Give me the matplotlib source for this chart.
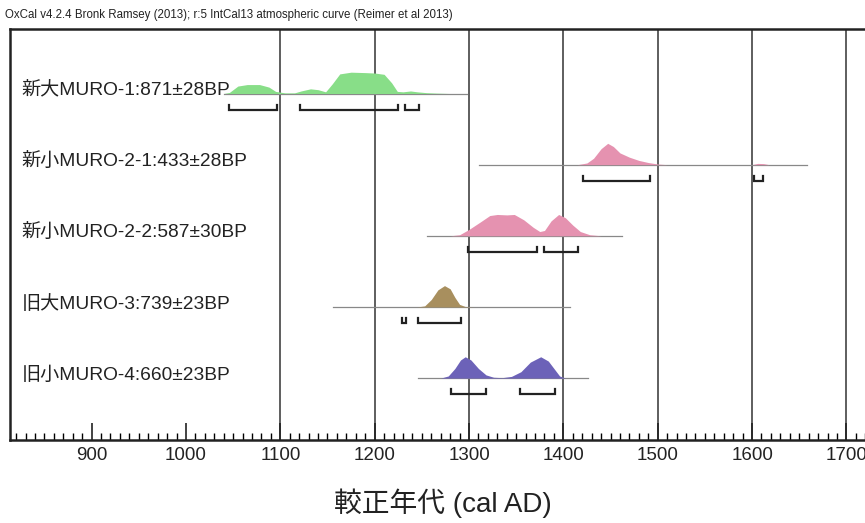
import matplotlib
matplotlib.use("Agg")
import matplotlib.pyplot as plt
from matplotlib.ticker import MultipleLocator

# フォント (Latin は Liberation Sans, 漢字は CJK へフォールバック)
FONTS = ['Liberation Sans', 'Noto Sans CJK JP', 'DejaVu Sans']
plt.rcParams['font.family'] = FONTS

title = "OxCal v4.2.4 Bronk Ramsey (2013); r:5 IntCal13 atmospheric curve (Reimer et al 2013)"
xlabel = "較正年代 (cal AD)"

labels = ["新大MURO-1:871±28BP", "新小MURO-2-1:433±28BP", "新小MURO-2-2:587±30BP",
          "旧大MURO-3:739±23BP", "旧小MURO-4:660±23BP"]
colors = ["#88de88", "#e592b0", "#e592b0", "#a88f5e", "#6c62b8"]

# 確率分布 (年, 相対高さ) - 図から読み取り
years_1 = [1040, 1046, 1055, 1065, 1078, 1088, 1095, 1105, 1115, 1122, 1132, 1140, 1148,
           1155, 1163, 1175, 1190, 1200, 1210, 1218, 1224, 1230, 1238, 1245, 1255, 1265, 1280]
dens_1 = [0, 0.05, 0.35, 0.42, 0.42, 0.3, 0.1, 0.03, 0.03, 0.12, 0.22, 0.18, 0.08,
          0.45, 0.92, 1.0, 0.98, 0.96, 0.9, 0.5, 0.1, 0.08, 0.12, 0.08, 0.04, 0.02, 0]
years_2 = [1415, 1425, 1432, 1440, 1447, 1453, 1460, 1470, 1480, 1490, 1500, 1510,
           1600, 1606, 1612, 1618]
dens_2 = [0, 0.08, 0.3, 0.75, 1.0, 0.85, 0.55, 0.35, 0.2, 0.1, 0.03, 0,
          0, 0.06, 0.05, 0]
years_3 = [1280, 1290, 1300, 1312, 1322, 1330, 1340, 1348, 1358, 1368, 1375, 1380,
           1387, 1395, 1402, 1410, 1418, 1428, 1440]
dens_3 = [0, 0.05, 0.3, 0.65, 0.95, 1.0, 0.98, 1.0, 0.75, 0.4, 0.2, 0.25,
          0.7, 1.0, 0.85, 0.5, 0.2, 0.05, 0]
years_4 = [1245, 1253, 1260, 1267, 1274, 1280, 1285, 1290, 1296, 1305]
dens_4 = [0, 0.05, 0.35, 0.8, 1.0, 0.85, 0.45, 0.12, 0.02, 0]
years_5 = [1270, 1278, 1285, 1291, 1296, 1302, 1310, 1318, 1326, 1335, 1345, 1355,
           1365, 1376, 1384, 1390, 1396, 1402]
dens_5 = [0, 0.1, 0.45, 0.85, 1.0, 0.85, 0.45, 0.15, 0.04, 0.02, 0.08, 0.3,
          0.75, 1.0, 0.8, 0.45, 0.1, 0]

# 基線の範囲 (年)
line_ranges = [(1040, 1298), (1311, 1658), (1256, 1462), (1156, 1407), (1246, 1426)]

# 95.4% 範囲
ranges = [
    [(1046, 1096), (1121, 1225), (1232, 1247)],
    [(1421, 1492), (1602, 1612)],
    [(1299, 1372), (1380, 1416)],
    [(1229, 1233), (1246, 1292)],
    [(1281, 1318), (1354, 1391)],
]

dist_years = [years_1, years_2, years_3, years_4, years_5]
dist_dens = [dens_1, dens_2, dens_3, dens_4, dens_5]

fig = plt.figure(figsize=(8.65, 5.23), dpi=100)
ax = fig.add_axes([10 / 865, 1 - 440 / 523, 860 / 865, (440 - 29.5) / 523])
ax.set_xlim(813.5, 1725)
ax.set_ylim(5.77, 0)

# 縦グリッド
for x in range(1100, 1800, 100):
    ax.axvline(x, color='#333333', lw=1.1, zorder=1)

peak = 0.3
for i in range(5):
    base = 0.9 + i * 1.0
    x0, x1 = line_ranges[i]
    ax.plot([x0, x1], [base, base], color='#888888', lw=0.9, zorder=2)
    ax.fill_between(dist_years[i], base, [base - d * peak for d in dist_dens[i]],
                    color=colors[i], lw=0, zorder=3)
    yb = base + 0.23
    for a, b in ranges[i]:
        ax.plot([a, a, b, b], [yb - 0.07, yb, yb, yb - 0.07], color='#222222',
                lw=1.6, zorder=4, solid_joinstyle='miter')
    ax.text(826, base - 0.04, labels[i], fontsize=13.8, va='center', ha='left',
            color='#222222', zorder=5)

# 軸
ax.xaxis.set_major_locator(MultipleLocator(100))
ax.xaxis.set_minor_locator(MultipleLocator(10))
ax.tick_params(axis='x', which='major', direction='in', length=12, width=1.2,
               labelsize=13.5, pad=5, colors='#222222')
ax.tick_params(axis='x', which='minor', direction='in', length=5, width=1)
ax.set_yticks([])
ax.spines['right'].set_visible(False)
for s in ['left', 'top', 'bottom']:
    ax.spines[s].set_linewidth(1.8)
    ax.spines[s].set_color('#222222')

fig.text(5 / 865, 1 - 15 / 523, title, fontsize=8.3, va='center', ha='left', color='#222222')
fig.text(443 / 865, 1 - 503 / 523, xlabel, fontsize=20, va='center', ha='center', color='#222222')

fig.savefig("out.png", dpi=100)
